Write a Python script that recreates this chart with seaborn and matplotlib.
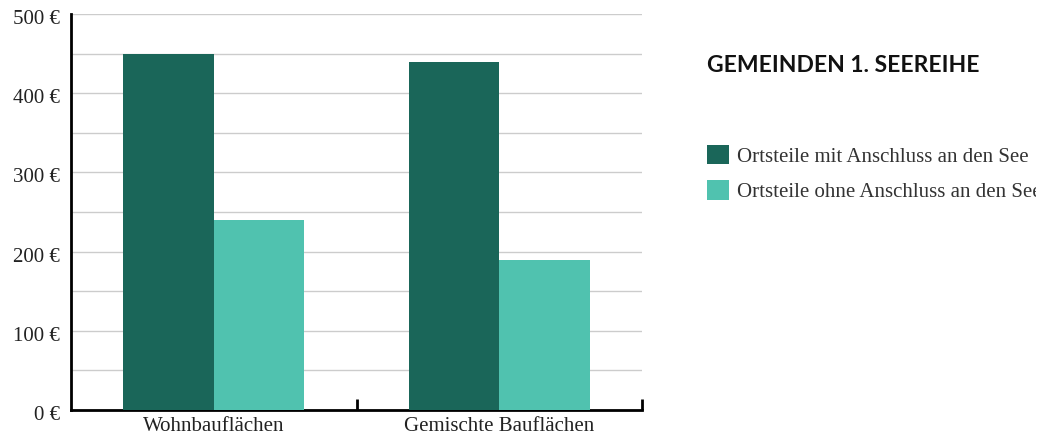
import pandas as pd
import numpy as np
import matplotlib
matplotlib.use("Agg")
import matplotlib.pyplot as plt
import matplotlib.transforms as mtransforms
from matplotlib.ticker import MultipleLocator, FuncFormatter
import seaborn as sns

# -----------------------------
# DATA
# -----------------------------
categories = ["Wohnbauflächen", "Gemischte Bauflächen"]
series_names = ["Ortsteile mit Anschluss an den See", "Ortsteile ohne Anschluss an den See"]
mit_see = [450, 440]
ohne_see = [240, 190]
colors = ["#1a6659", "#50c2af"]
title = "GEMEINDEN 1. SEEREIHE"

df = pd.DataFrame({
    "Kategorie": categories * 2,
    "Reihe": [series_names[0]] * 2 + [series_names[1]] * 2,
    "Wert": mit_see + ohne_see,
})

# -----------------------------
# FIGURE
# -----------------------------
sns.set_style("white")
plt.rcParams["font.family"] = ["Liberation Serif", "DejaVu Serif"]

W, H = 1056, 436
fig = plt.figure(figsize=(W / 100, H / 100), dpi=100)
ax = fig.add_axes([71 / W, 26 / H, (642 - 71) / W, (410 - 14) / H])

sns.barplot(data=df, x="Kategorie", y="Wert", hue="Reihe", palette=colors,
            width=0.634, gap=0, saturation=1, linewidth=0, edgecolor="none",
            legend=False, ax=ax, zorder=3)

ax.set_xlim(-0.5, 1.5)
ax.set_ylim(0, 500)
ax.set_xlabel("")
ax.set_ylabel("")

# y axis: labels every 100, gridlines every 50
ax.yaxis.set_major_locator(MultipleLocator(100))
ax.yaxis.set_minor_locator(MultipleLocator(50))
ax.yaxis.set_major_formatter(FuncFormatter(lambda v, p: f"{int(v)} €"))
ax.grid(True, axis="y", which="both", color="#cccccc", lw=1, zorder=0)
ax.set_axisbelow(True)
ax.tick_params(axis="y", which="both", length=0, pad=8, labelsize=15, labelcolor="#222222")
for lbl in ax.get_yticklabels():
    lbl.set_transform(lbl.get_transform() + mtransforms.ScaledTranslation(0, -3 / 100, fig.dpi_scale_trans))

# x axis: labels at centers, small inward ticks at group boundaries
ax.set_xticks([0, 1])
ax.set_xticklabels(categories)
ax.tick_params(axis="x", which="major", bottom=True, length=0, pad=5, labelsize=15, labelcolor="#222222")
ax.set_xticks([0.5, 1.5], minor=True)
ax.tick_params(axis="x", which="minor", bottom=True, direction="in", length=8, width=2, color="black")

sns.despine(ax=ax, top=True, right=True)
for s in ["left", "bottom"]:
    ax.spines[s].set_linewidth(2)
    ax.spines[s].set_color("black")

# -----------------------------
# TITLE + LEGEND (right side)
# -----------------------------
fig.text(707 / W, 1 - 72 / H, title, fontsize=16.5, fontweight="bold",
         family=["Lato", "DejaVu Sans"], color="#111111", va="baseline", ha="left")

handles = [plt.Rectangle((0, 0), 1, 1, facecolor=c, edgecolor="none") for c in colors]
leg = ax.legend(handles, series_names, loc="upper left",
                bbox_to_anchor=(707 / W, 1 - 145 / H), bbox_transform=fig.transFigure,
                frameon=False, borderpad=0, borderaxespad=0, fontsize=15,
                handlelength=1.05, handleheight=1.05, handletextpad=0.4, labelspacing=0.65)
clip = mtransforms.TransformedBbox(mtransforms.Bbox([[0, 0], [1036 / W, 1]]), fig.transFigure)
for t in leg.get_texts():
    t.set_color("#333333")
    t.set_clip_box(clip)
    t.set_clip_on(True)

fig.savefig("out.png", dpi=100)
